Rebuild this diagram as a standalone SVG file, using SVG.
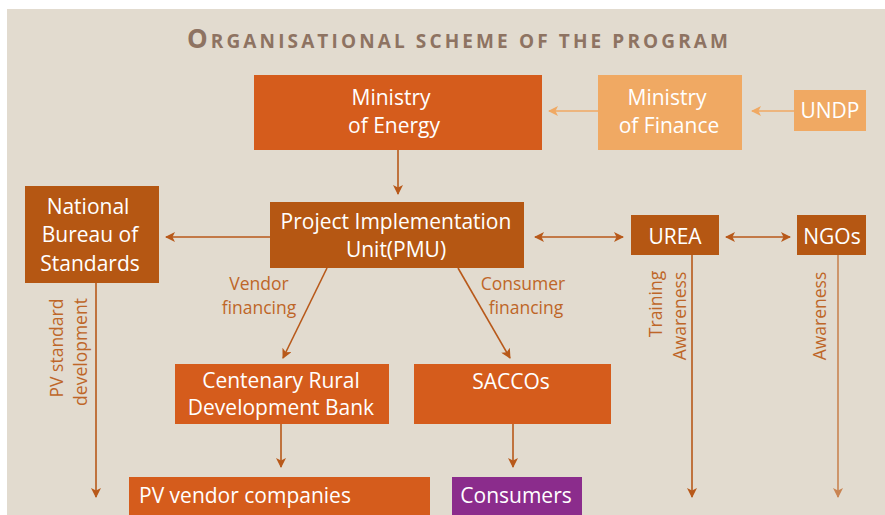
<svg xmlns="http://www.w3.org/2000/svg" width="885" height="515" viewBox="0 0 885 515">
<defs>
<style>
.bt{font-family:"Open Sans","Liberation Sans",sans-serif;font-size:21px;fill:#fff;text-anchor:middle}
.lb{font-family:"Open Sans","Liberation Sans",sans-serif;font-size:17.5px;fill:#BE6628;text-anchor:middle}
.ln{stroke:#B8591A;stroke-width:1.6;fill:none}
.lt{stroke:#F0A963;stroke-width:1.6;fill:none}
.lg{stroke:#C98452;stroke-width:1.6;fill:none}
</style>
<marker id="ah" viewBox="0 0 10 10" refX="9" refY="5" markerWidth="10" markerHeight="10" markerUnits="userSpaceOnUse" orient="auto-start-reverse"><path d="M0,0 L10,5 L0,10 L2.5,5 Z" fill="#B8591A"/></marker>
<marker id="ahl" viewBox="0 0 10 10" refX="9" refY="5" markerWidth="10" markerHeight="10" markerUnits="userSpaceOnUse" orient="auto-start-reverse"><path d="M0,0 L10,5 L0,10 L2.5,5 Z" fill="#F0A963"/></marker>
<marker id="ahg" viewBox="0 0 10 10" refX="9" refY="5" markerWidth="10" markerHeight="10" markerUnits="userSpaceOnUse" orient="auto-start-reverse"><path d="M0,0 L10,5 L0,10 L2.5,5 Z" fill="#C98452"/></marker>
</defs>
<rect x="0" y="0" width="885" height="515" fill="#fff"/>
<rect x="7" y="9" width="878" height="506" fill="#E2DBCF"/>
<text x="187" y="48" font-family="'Open Sans','Liberation Sans',sans-serif" font-weight="bold" fill="#8E7362" textLength="541" lengthAdjust="spacing"><tspan font-size="26">O</tspan><tspan font-size="19">RGANISATIONAL SCHEME OF THE PROGRAM</tspan></text>

<g id="connectors">
<line class="lt" x1="598" y1="111" x2="549" y2="111" marker-end="url(#ahl)"/>
<line class="lt" x1="794" y1="111" x2="752" y2="111" marker-end="url(#ahl)"/>
<line class="ln" x1="398" y1="150" x2="398" y2="194" marker-end="url(#ah)"/>
<line class="ln" x1="270" y1="237" x2="166" y2="237" marker-end="url(#ah)"/>
<line class="ln" x1="535" y1="237" x2="623" y2="237" marker-start="url(#ah)" marker-end="url(#ah)"/>
<line class="ln" x1="726" y1="237" x2="790" y2="237" marker-start="url(#ah)" marker-end="url(#ah)"/>
<line class="ln" x1="327" y1="268" x2="283" y2="358" marker-end="url(#ah)"/>
<line class="ln" x1="458" y1="268" x2="510" y2="358" marker-end="url(#ah)"/>
<line class="ln" x1="96" y1="283" x2="96" y2="497" marker-end="url(#ah)"/>
<line class="ln" x1="692" y1="255" x2="692" y2="497" marker-end="url(#ah)"/>
<line class="lg" x1="838" y1="255" x2="838" y2="497" marker-end="url(#ahg)"/>
<line class="ln" x1="281" y1="424" x2="281" y2="467" marker-end="url(#ah)"/>
<line class="ln" x1="513" y1="424" x2="513" y2="467" marker-end="url(#ah)"/>
<text class="lb" x="259" y="290">Vendor</text>
<text class="lb" x="259" y="314">financing</text>
<text class="lb" x="523" y="290">Consumer</text>
<text class="lb" x="526" y="314">financing</text>
<text class="lb" transform="translate(63,348) rotate(-90)">PV standard</text>
<text class="lb" transform="translate(87,352) rotate(-90)">development</text>
<text class="lb" transform="translate(662,304) rotate(-90)">Training</text>
<text class="lb" transform="translate(686,316) rotate(-90)">Awareness</text>
<text class="lb" transform="translate(826,316) rotate(-90)">Awareness</text>
</g>

<g id="ministry-energy"><rect x="254" y="75" width="288" height="75" fill="#D55C1C"/><text class="bt" x="391" y="105">Ministry</text><text class="bt" x="394" y="133">of Energy</text></g>
<g id="ministry-finance"><rect x="598" y="75" width="144" height="75" fill="#F0A963"/><text class="bt" x="667" y="105">Ministry</text><text class="bt" x="669" y="133">of Finance</text></g>
<g id="undp"><rect x="794" y="90" width="72" height="41" fill="#F0A963"/><text class="bt" x="830" y="118">UNDP</text></g>
<g id="nbs"><rect x="25" y="186" width="134" height="97" fill="#B55713"/><text class="bt" x="88" y="214">National</text><text class="bt" x="90" y="242">Bureau of</text><text class="bt" x="90" y="271">Standards</text></g>
<g id="pmu"><rect x="270" y="202" width="254" height="66" fill="#B55713"/><text class="bt" x="396" y="229">Project Implementation</text><text class="bt" x="396" y="257">Unit(PMU)</text></g>
<g id="urea"><rect x="631" y="215" width="88" height="40" fill="#B55713"/><text class="bt" x="675" y="244">UREA</text></g>
<g id="ngos"><rect x="797" y="215" width="69" height="40" fill="#B55713"/><text class="bt" x="832" y="244">NGOs</text></g>
<g id="centenary"><rect x="175" y="364" width="214" height="60" fill="#D55C1C"/><text class="bt" x="281" y="388" font-size="20">Centenary Rural</text><text class="bt" x="281" y="415" font-size="20">Development Bank</text></g>
<g id="saccos"><rect x="414" y="364" width="197" height="60" fill="#D55C1C"/><text class="bt" x="511" y="389">SACCOs</text></g>
<g id="pv-vendors"><rect x="129" y="477" width="301" height="38" fill="#D55C1C"/><text class="bt" x="139" y="503" style="text-anchor:start">PV vendor companies</text></g>
<g id="consumers"><rect x="452" y="477" width="130" height="38" fill="#8B2C8C"/><text class="bt" x="516" y="503">Consumers</text></g>
</svg>
